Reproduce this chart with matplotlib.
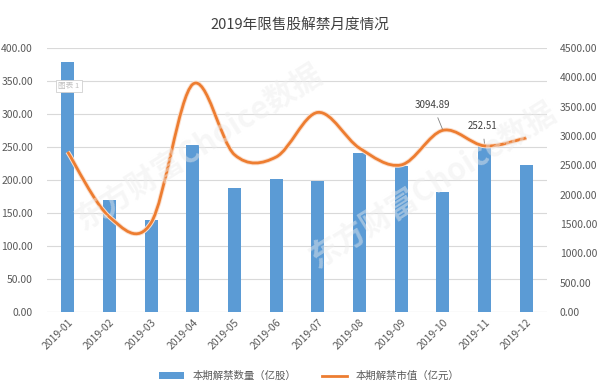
import numpy as np
import matplotlib
matplotlib.use('Agg')
import matplotlib.pyplot as plt
from matplotlib.path import Path
from matplotlib.patches import PathPatch
from matplotlib.lines import Line2D
from matplotlib.patches import Patch

plt.rcParams['font.family'] = ['Noto Sans CJK SC', 'DejaVu Sans']

months = ['2019-01', '2019-02', '2019-03', '2019-04', '2019-05', '2019-06',
          '2019-07', '2019-08', '2019-09', '2019-10', '2019-11', '2019-12']
shares = [379, 170, 139, 253, 188, 201, 198, 241, 221, 182, 252.51, 222]
market_value = [2727, 1620, 1517, 3880, 2680, 2640, 3400, 2790, 2505, 3094.89, 2829, 2966]

bar_color = '#5B9BD5'
line_color = '#ED7D31'

fig = plt.figure(figsize=(6, 3.86), dpi=100)
ax = fig.add_axes([0.078, 0.192, 0.834, 0.684])
ax2 = ax.twinx()

x = np.arange(len(months))
ax.bar(x, shares, width=0.31, color=bar_color, zorder=2)

# smooth line (catmull-rom as cubic bezier, like Excel smoothing)
pts = np.column_stack([x, market_value]).astype(float)
verts = [tuple(pts[0])]
codes = [Path.MOVETO]
for i in range(len(pts) - 1):
    p0 = pts[i - 1] if i > 0 else pts[i]
    p1 = pts[i]
    p2 = pts[i + 1]
    p3 = pts[i + 2] if i + 2 < len(pts) else pts[i + 1]
    c1 = p1 + (p2 - p0) / 6
    c2 = p2 - (p3 - p1) / 6
    verts += [tuple(c1), tuple(c2), tuple(p2)]
    codes += [Path.CURVE4] * 3
ax2.add_patch(PathPatch(Path(verts, codes), facecolor='none', edgecolor='#FBE0CF',
                        lw=3.4, zorder=3))
ax2.add_patch(PathPatch(Path(verts, codes), facecolor='none', edgecolor=line_color,
                        lw=2.0, zorder=4))

ax.set_xlim(-0.5, len(months) - 0.5)
ax.set_ylim(0, 400)
ax2.set_ylim(0, 4500)
ax.set_yticks(np.arange(0, 401, 50))
ax2.set_yticks(np.arange(0, 4501, 500))
ax.set_yticklabels([f'{v:.2f}' for v in np.arange(0, 401, 50)])
ax2.set_yticklabels([f'{v:.2f}' for v in np.arange(0, 4501, 500)])
ax.set_xticks(x)
ax.set_xticklabels(months, rotation=45, ha='right', rotation_mode='anchor')

for a in (ax, ax2):
    for s in a.spines.values():
        s.set_visible(False)
    a.tick_params(length=0, labelsize=7.5, colors='#595959')
ax.tick_params(axis='y', pad=10)
ax2.tick_params(axis='y', pad=9)
ax.tick_params(axis='x', pad=4)
ax.grid(axis='y', color='#D9D9D9', lw=0.8, zorder=0)
ax.set_axisbelow(True)
ax.axhline(0, color='#D9D9D9', lw=0.8, zorder=1)

# data labels
ax2.annotate('3094.89', xy=(9, market_value[9]), xytext=(9 - 0.25, 3530),
             fontsize=7, color='#404040', ha='center', va='center',
             arrowprops=dict(arrowstyle='-', color='#808080', lw=0.6,
                             shrinkA=4, shrinkB=1), zorder=6)
ax.annotate('252.51', xy=(10, shares[10]), xytext=(10 - 0.05, 282),
            fontsize=7, color='#404040', ha='center', va='center',
            arrowprops=dict(arrowstyle='-', color='#808080', lw=0.6,
                            shrinkA=4, shrinkB=1), zorder=6)

# small chart tag
fig.text(0.115, 0.777, '图表 1', fontsize=5.5, color='#BFBFBF', ha='center', va='center',
         bbox=dict(boxstyle='square,pad=0.3', fc='white', ec='#D0D0D0', lw=0.6), zorder=7)

# watermark
for wx, wy in [(0.33, 0.62), (0.72, 0.52)]:
    fig.text(wx, wy, '东方财富Choice数据', fontsize=22, color='#EDEDED', alpha=0.45,
             rotation=32, ha='center', va='center', fontweight='bold', zorder=10)

fig.suptitle('2019年限售股解禁月度情况', y=0.955, fontsize=10.5, color='#404040')

handles = [Patch(facecolor=bar_color, edgecolor='none'),
           Line2D([0], [0], color=line_color, lw=2)]
fig.legend(handles, ['本期解禁数量（亿股）', '本期解禁市值（亿元）'], loc='lower center',
           bbox_to_anchor=(0.515, -0.012), ncol=2, frameon=False, fontsize=7.5,
           handlelength=2.4, handleheight=0.6, columnspacing=2.5, labelcolor='#595959')

fig.savefig('out.png', dpi=100)
